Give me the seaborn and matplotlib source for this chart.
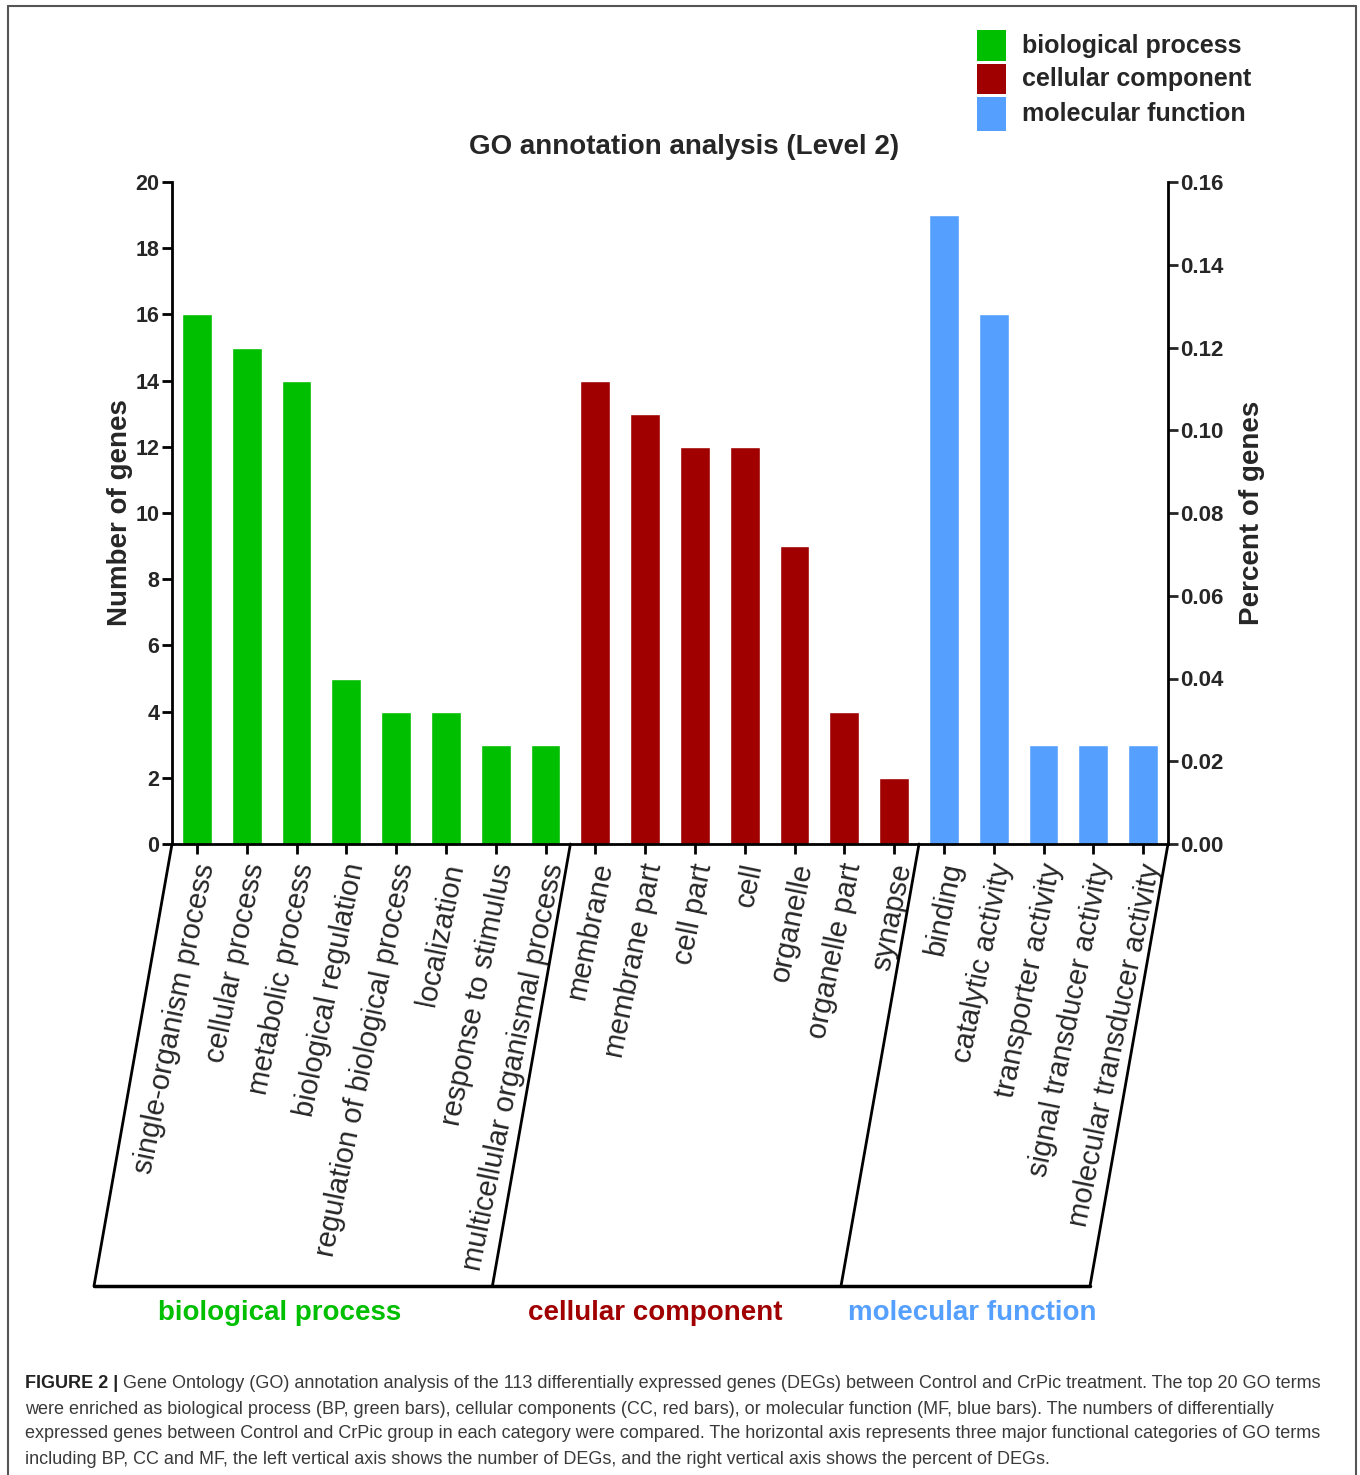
import numpy as np
import pandas as pd
import matplotlib
matplotlib.use('Agg')
import matplotlib.pyplot as plt
import seaborn as sns
from matplotlib.lines import Line2D
from matplotlib.patches import Rectangle
from matplotlib.transforms import ScaledTranslation

# GO level 2 terms and gene counts
terms = ['single-organism process', 'cellular process', 'metabolic process',
         'biological regulation', 'regulation of biological process', 'localization',
         'response to stimulus', 'multicellular organismal process',
         'membrane', 'membrane part', 'cell part', 'cell', 'organelle',
         'organelle part', 'synapse',
         'binding', 'catalytic activity', 'transporter activity',
         'signal transducer activity', 'molecular transducer activity']
counts = [16, 15, 14, 5, 4, 4, 3, 3,
          14, 13, 12, 12, 9, 4, 2,
          19, 16, 3, 3, 3]
group_names = ['biological process', 'cellular component', 'molecular function']
group_sizes = [8, 7, 5]
group_colors = ['#00BF00', '#A00000', '#55A0FF']
count_ticks = list(range(0, 21, 2))
pct_ticks = [0.00, 0.02, 0.04, 0.06, 0.08, 0.10, 0.12, 0.14, 0.16]

caption_bold = 'FIGURE 2 |'
caption_lines = [
    'Gene Ontology (GO) annotation analysis of the 113 differentially expressed genes (DEGs) between Control and CrPic treatment. The top 20 GO terms',
    'were enriched as biological process (BP, green bars), cellular components (CC, red bars), or molecular function (MF, blue bars). The numbers of differentially',
    'expressed genes between Control and CrPic group in each category were compared. The horizontal axis represents three major functional categories of GO terms',
    'including BP, CC and MF, the left vertical axis shows the number of DEGs, and the right vertical axis shows the percent of DEGs.',
]

sns.set_style('ticks')
plt.rcParams['font.family'] = ['Liberation Sans', 'DejaVu Sans']

W, H = 1360, 1475
fig = plt.figure(figsize=(W / 100, H / 100), dpi=100)

def fx(px):
    return px / W

def fy(py):
    return 1 - py / H

ax = fig.add_axes([fx(172), fy(844), (1168 - 172) / W, (844 - 182) / H])

groups = []
for g, n in zip(group_names, group_sizes):
    groups += [g] * n
df = pd.DataFrame({'term': terms, 'count': counts, 'group': groups})

sns.barplot(data=df, x='term', y='count', hue='group', order=terms,
            hue_order=group_names, palette=dict(zip(group_names, group_colors)),
            dodge=False, width=0.6, saturation=1, legend=False, ax=ax)

ax.set_xlim(-0.5, len(terms) - 0.5)
ax.set_ylim(0, 20)
ax.tick_params(axis='both', direction='out', length=7, width=2, color='black')
ax.tick_params(axis='x', pad=7)
ax.tick_params(axis='y', pad=2)
ax.set_yticks(count_ticks)
ax.set_yticklabels([str(t) for t in count_ticks], fontsize=15.5, fontweight='bold')
ax.set_xticks(range(len(terms)))
ax.set_xticklabels(terms, rotation=78.5, ha='right', va='center',
                   rotation_mode='anchor', fontsize=21)
# nudge the slanted labels a little to the right, like the original
shift = ScaledTranslation(0.09, 0, fig.dpi_scale_trans)
for lbl in ax.get_xticklabels():
    lbl.set_transform(lbl.get_transform() + shift)
ax.set_xlabel('')
ax.set_ylabel('Number of genes', fontsize=20, fontweight='bold')
ax.yaxis.label.set_va('center')
ax.yaxis.set_label_coords(-0.052, 0.5)
for s in ['top', 'right']:
    ax.spines[s].set_visible(False)
for s in ['left', 'bottom']:
    ax.spines[s].set_linewidth(2)
    ax.spines[s].set_color('black')

ax2 = ax.twinx()
ax2.set_ylim(0, 0.16)
ax2.tick_params(axis='y', direction='out', length=7, width=2, pad=2)
ax2.set_yticks(pct_ticks)
ax2.set_yticklabels(['%.2f' % t for t in pct_ticks], fontsize=16, fontweight='bold')
ax2.set_ylabel('Percent of genes', fontsize=20, fontweight='bold')
ax2.yaxis.label.set_va('center')
ax2.yaxis.set_label_coords(1.084, 0.5)
for s in ['top', 'left', 'bottom']:
    ax2.spines[s].set_visible(False)
ax2.spines['right'].set_linewidth(2)
ax2.spines['right'].set_color('black')
ax2.grid(False)
ax.grid(False)

ax.set_title('GO annotation analysis (Level 2)', fontsize=20, fontweight='bold',
             pad=20, x=(684 - 172) / 996)

# slanted brackets under the x axis
fig.canvas.draw()
to_fig = fig.transFigure.inverted()
bounds = [-0.5]
for n in group_sizes:
    bounds.append(bounds[-1] + n)
dx, dy = -78, -442
bottoms = []
for b in bounds:
    top = ax.transData.transform((b, 0))
    bot = top + np.array([dx, dy])
    p = to_fig.transform([top, bot])
    fig.add_artist(Line2D(p[:, 0], p[:, 1], color='black', lw=2))
    bottoms.append(bot)
p = to_fig.transform([bottoms[0], bottoms[-1]])
fig.add_artist(Line2D(p[:, 0], p[:, 1], color='black', lw=2.5))

label_shift = [-14, -11, 7]
for i, (g, c) in enumerate(zip(group_names, group_colors)):
    mid = (bottoms[i] + bottoms[i + 1]) / 2 + np.array([label_shift[i], -27])
    mx, my = to_fig.transform(mid)
    fig.text(mx, my, g, color=c, fontsize=20, fontweight='bold', ha='center', va='center')

# legend top right
leg_rows = [(30, 61), (64, 94), (97, 131)]
for (y0, y1), g, c in zip(leg_rows, group_names, group_colors):
    fig.add_artist(Rectangle((fx(977), fy(y1)), 29 / W, (y1 - y0) / H,
                             transform=fig.transFigure, color=c, lw=0))
    fig.text(fx(1022), fy((y0 + y1) / 2), g, fontsize=18, fontweight='bold',
             ha='left', va='center')

# frame around figure panel
frame_kw = dict(color='#555555', lw=1.5, transform=fig.transFigure)
fig.add_artist(Line2D([fx(8), fx(8)], [fy(6), 0], **frame_kw))
fig.add_artist(Line2D([fx(1356), fx(1356)], [fy(6), 0], **frame_kw))
fig.add_artist(Line2D([fx(8), fx(1356)], [fy(6), fy(6)], **frame_kw))

# caption
line_y = [1384, 1409, 1434, 1459]
t = fig.text(fx(25), fy(line_y[0]), caption_bold, fontsize=13, fontweight='bold',
             color='#222222', ha='left', va='center')
fig.canvas.draw()
bb = t.get_window_extent(renderer=fig.canvas.get_renderer())
x_after = to_fig.transform((bb.x1 + 5, 0))[0]
for i, (ly, txt) in enumerate(zip(line_y, caption_lines)):
    x0 = x_after if i == 0 else fx(25)
    fig.text(x0, fy(ly), txt, fontsize=13, color='#3a3a3a', ha='left', va='center')

fig.savefig('out.png', dpi=100, facecolor='white')
